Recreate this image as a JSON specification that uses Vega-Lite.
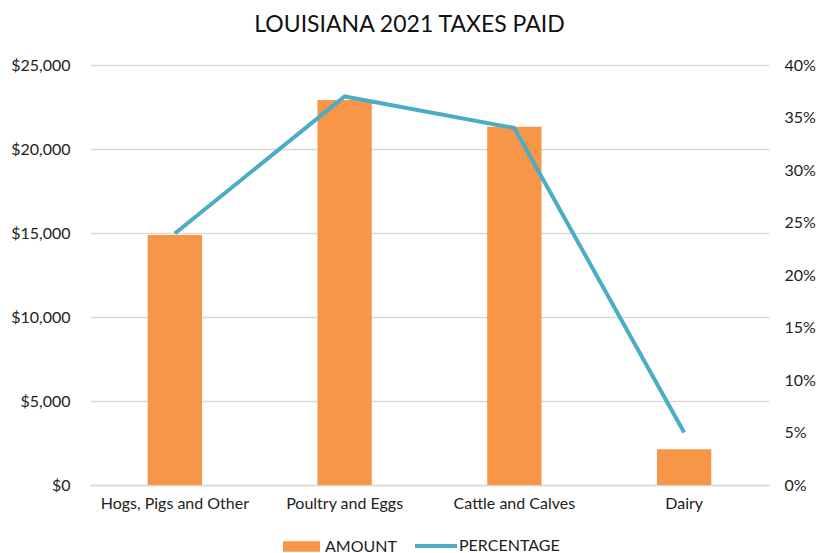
{
  "$schema": "https://vega.github.io/schema/vega-lite/v6.json",
  "width": 679,
  "height": 420,
  "autosize": {"type": "none"},
  "padding": {"left": 90, "top": 65, "right": 47, "bottom": 68},
  "background": "white",
  "config": {
    "font": "Lato",
    "view": {"stroke": null},
    "axis": {"labelFont": "Lato", "labelFontSize": 16, "labelColor": "#222222", "ticks": false, "domain": false, "title": null}
  },
  "title": {
    "text": "LOUISIANA 2021 TAXES PAID",
    "font": "Lato",
    "fontSize": 23,
    "fontWeight": "normal",
    "color": "#111111",
    "anchor": "middle",
    "dx": -20,
    "offset": 20
  },
  "data": {
    "values": [
      {"category": "Hogs, Pigs and Other", "amount": 14880, "percentage": 0.2395},
      {"category": "Poultry and Eggs", "amount": 22920, "percentage": 0.370},
      {"category": "Cattle and Calves", "amount": 21330, "percentage": 0.340},
      {"category": "Dairy", "amount": 2130, "percentage": 0.050}
    ]
  },
  "encoding": {
    "x": {
      "field": "category",
      "type": "nominal",
      "sort": null,
      "scale": {"paddingInner": 0.68, "paddingOuter": 0.34},
      "axis": {"labelAngle": 0, "labelPadding": 10, "domain": true, "domainColor": "#d9d9d9", "domainWidth": 1.5}
    }
  },
  "layer": [
    {
      "mark": {"type": "bar", "color": "#f79646"},
      "encoding": {
        "y": {
          "field": "amount",
          "type": "quantitative",
          "scale": {"domain": [0, 25000], "nice": false},
          "axis": {"values": [0, 5000, 10000, 15000, 20000, 25000], "format": "$,.0f", "grid": true, "gridColor": "#d9d9d9", "gridWidth": 1.5, "labelPadding": 20}
        },
        "fill": {
          "datum": "AMOUNT",
          "type": "nominal",
          "scale": {"domain": ["AMOUNT"], "range": ["#f79646"]},
          "legend": {
            "title": null,
            "orient": "none",
            "legendX": 193,
            "legendY": 463,
            "symbolType": "M-1,-0.28H1V0.28H-1Z",
            "symbolSize": 1369,
            "symbolStrokeWidth": 0,
            "labelFont": "Lato",
            "labelFontSize": 16,
            "labelColor": "#222222",
            "labelOffset": 5
          }
        }
      }
    },
    {
      "mark": {"type": "line", "strokeWidth": 4, "color": "#4bacc6"},
      "encoding": {
        "y": {
          "field": "percentage",
          "type": "quantitative",
          "scale": {"domain": [0, 0.4], "nice": false},
          "axis": {"orient": "right", "values": [0, 0.05, 0.1, 0.15, 0.2, 0.25, 0.3, 0.35, 0.4], "format": ".0%", "grid": false, "labelPadding": 15}
        },
        "stroke": {
          "datum": "PERCENTAGE",
          "type": "nominal",
          "scale": {"domain": ["PERCENTAGE"], "range": ["#4bacc6"]},
          "legend": {
            "title": null,
            "orient": "none",
            "legendX": 323,
            "legendY": 458,
            "symbolType": "stroke",
            "symbolSize": 1764,
            "symbolStrokeWidth": 4,
            "labelFont": "Lato",
            "labelFontSize": 16,
            "labelColor": "#222222",
            "labelOffset": 0
          }
        }
      }
    }
  ],
  "resolve": {"scale": {"y": "independent", "fill": "independent", "stroke": "independent"}}
}
